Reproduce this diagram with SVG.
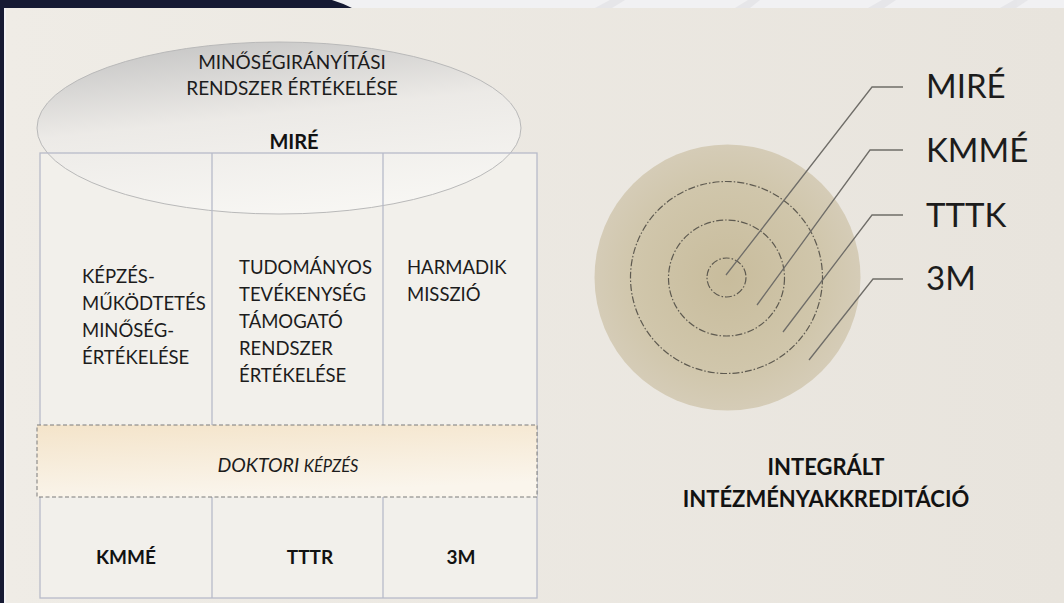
<svg xmlns="http://www.w3.org/2000/svg" width="1064" height="603" viewBox="0 0 1064 603">
<defs>
<linearGradient id="bg" x1="0" y1="0" x2="1" y2="0">
<stop offset="0" stop-color="#efece6"/>
<stop offset="1" stop-color="#e8e4dd"/>
</linearGradient>
<linearGradient id="ell" x1="0.25" y1="0" x2="0.55" y2="1">
<stop offset="0" stop-color="#c2c2c2"/>
<stop offset="0.45" stop-color="#eceae7"/>
<stop offset="1" stop-color="#f8f7f4"/>
</linearGradient>
<linearGradient id="dok" x1="0" y1="0" x2="0.3" y2="1">
<stop offset="0" stop-color="#f4e4ca"/>
<stop offset="1" stop-color="#faf5ec"/>
</linearGradient>
<radialGradient id="disc" cx="0.5" cy="0.5" r="0.5">
<stop offset="0" stop-color="#c8bc9c"/>
<stop offset="0.7" stop-color="#d0c6ab"/>
<stop offset="1" stop-color="#d5ccb7"/>
</radialGradient>
<style>
.t{font-family:Lato,"Open Sans","Liberation Sans",sans-serif;fill:#1c1c1c}
.b{font-weight:bold;fill:#121212}
.grid{stroke:#b7bbc9;stroke-width:1.3;fill:none}
.ring{fill:none;stroke:#5e5a50;stroke-width:1.2;stroke-dasharray:7 2 1.5 2}
.lead{fill:none;stroke:#6f6d68;stroke-width:1.3}
</style>
</defs>
<rect x="0" y="0" width="1064" height="603" fill="#f1f1f3"/>
<g fill="#e2e2e6" opacity="0.7">
<polygon points="595,8 610,0 625,0 612,8"/>
<polygon points="735,8 748,0 760,0 750,8"/>
<polygon points="868,8 882,0 896,0 884,8"/>
<polygon points="1000,8 1014,0 1028,0 1016,8"/>
</g>
<rect x="6" y="8" width="1058" height="595" fill="url(#bg)"/>
<path d="M0,0 H332 Q342,3 352,8 H4 V603 H0 Z" fill="#161a33"/>
<g id="table">
<rect x="40" y="153" width="497" height="445" fill="#f2f0eb"/>
<ellipse cx="279" cy="128" rx="242" ry="86" fill="url(#ell)" fill-opacity="0.9" stroke="#b9b9b9" stroke-width="1"/>
<rect x="40" y="153" width="497" height="445" class="grid"/>
<line x1="212" y1="153" x2="212" y2="598" class="grid"/>
<line x1="383" y1="153" x2="383" y2="598" class="grid"/>
</g>
<g id="node-mire-top">
<text class="t" x="292" y="69" font-size="19" text-anchor="middle">MINŐSÉGIRÁNYÍTÁSI</text>
<text class="t" x="292" y="95" font-size="19" text-anchor="middle">RENDSZER ÉRTÉKELÉSE</text>
<text class="t b" x="294" y="149" font-size="20" text-anchor="middle">MIRÉ</text>
</g>
<g id="node-kepzes">
<text class="t" x="82" y="283" font-size="18.5">KÉPZÉS-</text>
<text class="t" x="82" y="310" font-size="18.5">MŰKÖDTETÉS</text>
<text class="t" x="82" y="337" font-size="18.5">MINŐSÉG-</text>
<text class="t" x="82" y="364" font-size="18.5">ÉRTÉKELÉSE</text>
</g>
<g id="node-tudomanyos">
<text class="t" x="239" y="274" font-size="18.5">TUDOMÁNYOS</text>
<text class="t" x="239" y="301" font-size="18.5">TEVÉKENYSÉG</text>
<text class="t" x="239" y="328" font-size="18.5">TÁMOGATÓ</text>
<text class="t" x="239" y="355" font-size="18.5">RENDSZER</text>
<text class="t" x="239" y="382" font-size="18.5">ÉRTÉKELÉSE</text>
</g>
<g id="node-harmadik">
<text class="t" x="407" y="274" font-size="18.5">HARMADIK</text>
<text class="t" x="407" y="301" font-size="18.5">MISSZIÓ</text>
</g>
<g id="node-doktori">
<rect x="37" y="425" width="500" height="72" fill="url(#dok)" stroke="#7a7a7a" stroke-width="1" stroke-dasharray="4 2.5"/>
<text class="t" x="288" y="472" font-size="19.5" font-style="italic" text-anchor="middle">DOKTORI <tspan font-size="16.5">KÉPZÉS</tspan></text>
</g>
<g id="node-bottom">
<text class="t b" x="126" y="564" font-size="19" text-anchor="middle">KMMÉ</text>
<text class="t b" x="310" y="564" font-size="19" text-anchor="middle">TTTR</text>
<text class="t b" x="461" y="564" font-size="19" text-anchor="middle">3M</text>
</g>
<g id="node-circles">
<circle cx="727.5" cy="277.5" r="133" fill="url(#disc)"/>
<circle cx="726.5" cy="277.5" r="96" class="ring"/>
<circle cx="726.5" cy="278" r="58" class="ring"/>
<circle cx="726.5" cy="277.5" r="19.5" class="ring"/>
</g>
<g id="connectors">
<polyline class="lead" points="726,275 872,87 903,87"/>
<polyline class="lead" points="757,305 870,150 903,150"/>
<polyline class="lead" points="783,332 872,215 903,215"/>
<polyline class="lead" points="809,360 873,279 903,279"/>
</g>
<g id="node-labels">
<text class="t" x="926" y="98" font-size="33">MIRÉ</text>
<text class="t" x="926" y="162" font-size="33">KMMÉ</text>
<text class="t" x="926" y="227" font-size="33">TTTK</text>
<text class="t" x="926" y="290" font-size="33">3M</text>
</g>
<g id="node-integralt">
<text class="t b" x="826" y="475" font-size="22" text-anchor="middle">INTEGRÁLT</text>
<text class="t b" x="826" y="507" font-size="22" text-anchor="middle">INTÉZMÉNYAKKREDITÁCIÓ</text>
</g>
</svg>
